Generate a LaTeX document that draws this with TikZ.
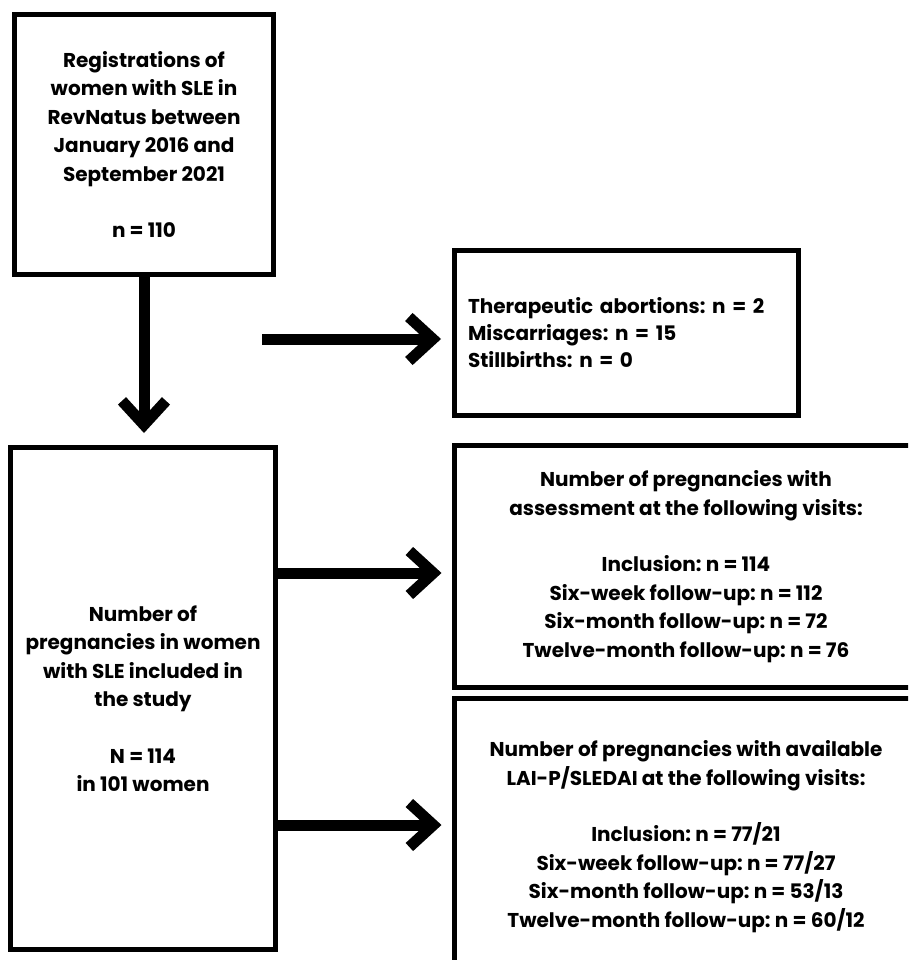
\documentclass[tikz,border=0pt]{standalone}
\usepackage{fontspec}
\setmainfont{Poppins}
\frenchspacing
\usetikzlibrary{arrows.meta}

\begin{document}
\begin{tikzpicture}[x=1pt,y=-1pt,
  box/.style={draw,line width=5pt,outer sep=0pt,inner sep=0pt,align=center,
    font=\fontsize{20}{28.5}\selectfont\bfseries},
  arr/.style={line width=11pt,-{Straight Barb[length=24pt,width=44pt]}}]
 \useasboundingbox (0,0) rectangle (908,960);
 \clip (0,0) rectangle (908,960);
 \node[box,minimum width=259pt,minimum height=260pt] (reg) at (144,144.5)
  {Registrations of\\women with SLE in\\RevNatus between\\January 2016 and\\September 2021\\[28pt]n = 110};
 \node[box,minimum width=344pt,minimum height=165pt,align=left,text width=317pt,inner xsep=13.5pt,
   font=\fontsize{20}{27}\selectfont\bfseries] (out) at (626.5,333)
  {Therapeutic abortions: n = 2\\Miscarriages: n = 15\\Stillbirths: n = 0};
 \node[box,minimum width=265pt,minimum height=502pt] (incl) at (143,698.5)
  {Number of\\pregnancies in women\\with SLE included in\\the study\\[28pt]N = 114\\in 101 women};
 \node[box,minimum width=463pt,minimum height=242pt] (vis) at (686,566.5)
  {Number of pregnancies with\\assessment at the following visits:\\[28pt]Inclusion: n = 114\\Six-week follow-up: n = 112\\Six-month follow-up: n = 72\\Twelve-month follow-up: n = 76};
 \node[box,minimum width=463pt,minimum height=277pt] (avl) at (686,836.5)
  {Number of pregnancies with available\\LAI-P/SLEDAI at the following visits:\\[28pt]Inclusion: n = 77/21\\Six-week follow-up: n = 77/27\\Six-month follow-up: n = 53/13\\Twelve-month follow-up: n = 60/12};
 \coordinate (gap) at (262,339);
 \coordinate (p1) at ([yshift=125.5pt]incl.east);
 \coordinate (p2) at ([yshift=-126.5pt]incl.east);
 \draw[arr,shorten >=14.5pt] (reg.south) -- (reg.south |- incl.north);
 \draw[arr,shorten >=13.5pt] (gap) -- (gap -| out.west);
 \draw[arr,shorten >=13pt] (p1) -- (p1 -| vis.west);
 \draw[arr,shorten >=13pt] (p2) -- (p2 -| avl.west);
\end{tikzpicture}
\end{document}
